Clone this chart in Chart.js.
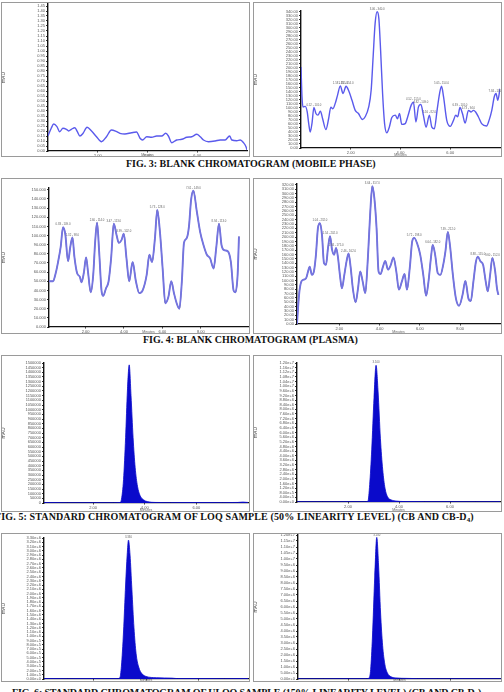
<!DOCTYPE html>
<html><head><meta charset="utf-8">
<script src="https://cdn.jsdelivr.net/npm/chart.js@4"></script>
<style>
html,body{margin:0;padding:0;background:#fff;width:504px;height:692px;overflow:hidden;position:relative}
.frame{position:absolute;border:1px solid #9a9a9a;box-sizing:border-box;pointer-events:none}
canvas{position:absolute}
.cap{position:absolute;white-space:nowrap;font:bold 10px "Liberation Serif","Times New Roman",serif;line-height:10px;color:#111}
.cap sub{font-size:7px;vertical-align:-2px;line-height:0}
</style></head><body>
<div class="cap" style="left:126px;top:159px">FIG. 3: BLANK CHROMATOGRAM (MOBILE PHASE)</div>
<div class="cap" style="left:143px;top:335px">FIG. 4: BLANK CHROMATOGRAM (PLASMA)</div>
<div class="cap" style="left:-5px;top:511.6px;letter-spacing:0.12px">FIG. 5: STANDARD CHROMATOGRAM OF LOQ SAMPLE (50% LINEARITY LEVEL) (CB AND CB-D<sub>4</sub>)</div>
<div class="cap" style="left:12px;top:687.6px;letter-spacing:-0.15px">FIG. 6: STANDARD CHROMATOGRAM OF ULOQ SAMPLE (150% LINEARITY LEVEL) (CB AND CB-D<sub>4</sub>)</div>
<script>
// ---- Fig 3 left: blank (mobile phase) ----
const timeA = [0.00,0.13,0.23,0.36,0.47,0.60,0.74,0.83,0.94,1.08,1.18,1.28,1.41,1.57,1.75,1.95,2.15,2.35,2.55,2.76,2.89,3.09,3.36,3.56,3.70,3.80,3.97,4.17,4.37,4.57,4.73,4.84,4.97,5.17,5.38,5.58,5.78,5.98,6.12,6.25,6.45,6.72,6.92,7.12,7.30,7.39,7.59,7.73,7.86,7.96,8.00];
const signalA = [0.150,0.227,0.270,0.243,0.193,0.227,0.217,0.200,0.217,0.233,0.193,0.150,0.177,0.237,0.200,0.143,0.093,0.143,0.210,0.193,0.177,0.170,0.183,0.190,0.127,0.110,0.143,0.137,0.150,0.150,0.177,0.150,0.083,0.110,0.117,0.137,0.143,0.167,0.143,0.110,0.093,0.100,0.110,0.110,0.150,0.110,0.103,0.110,0.083,0.043,0.010];
// ---- Fig 3 right ----
const timeB = [0.00,0.04,0.08,0.17,0.25,0.31,0.37,0.44,0.52,0.60,0.68,0.78,0.87,1.00,1.11,1.20,1.28,1.38,1.47,1.58,1.69,1.81,1.91,2.05,2.18,2.31,2.47,2.58,2.72,2.82,2.90,2.98,3.06,3.13,3.20,3.28,3.36,3.45,3.55,3.65,3.79,3.88,3.96,4.05,4.19,4.29,4.43,4.52,4.62,4.72,4.82,4.92,5.03,5.16,5.26,5.36,5.47,5.57,5.65,5.73,5.86,6.00,6.13,6.22,6.30,6.39,6.49,6.60,6.73,6.84,6.93,7.02,7.13,7.26,7.46,7.56,7.67,7.77,7.84,7.91,8.00];
const signalB = [202,128,102,104,90,61,40,61,101,86,82,92,73,46,73,102,98,112,132,155,136,154,144,119,94,86,71,78,102,144,228,311,340,323,244,136,61,38,52,76,82,73,86,59,61,78,107,115,65,102,109,82,52,82,52,48,94,136,154,128,69,54,69,82,78,101,86,62,94,90,94,90,78,61,55,69,94,128,136,119,148];
const peaksB = [8,19,21,32,47,50,53,58,65,68,78];
// ---- Fig 4 left: blank plasma ----
const timeC = [0.10,0.31,0.45,0.57,0.71,0.83,0.95,1.09,1.21,1.32,1.42,1.56,1.70,1.79,1.91,2.03,2.13,2.27,2.40,2.50,2.60,2.71,2.83,2.92,3.06,3.20,3.33,3.47,3.61,3.73,3.87,3.99,4.13,4.27,4.45,4.62,4.80,4.97,5.18,5.32,5.46,5.61,5.73,5.87,6.01,6.15,6.31,6.46,6.60,6.74,6.88,7.01,7.12,7.26,7.38,7.49,7.61,7.79,7.96,8.13,8.31,8.48,8.66,8.80,8.94,9.07,9.21,9.39,9.56,9.70,9.79,9.91,9.98];
const signalC = [50,50,59,71,88,109,101,72,88,98,77,59,55,49,59,76,60,38,57,93,114,82,40,34,42,50,75,113,101,92,95,102,75,50,71,50,37,40,57,79,71,97,128,104,64,26,33,50,37,26,20,50,92,97,110,139,149,126,104,90,79,75,64,87,113,90,84,83,71,40,38,57,99];
const peaksC = [5,9,20,27,31,42,56,64];
// ---- Fig 4 right ----
const timeD = [-0.10,-0.05,0.02,0.12,0.23,0.35,0.45,0.53,0.64,0.74,0.84,0.94,1.04,1.14,1.24,1.34,1.44,1.54,1.64,1.74,1.84,1.93,2.03,2.13,2.25,2.36,2.46,2.56,2.68,2.81,2.93,3.04,3.16,3.29,3.42,3.54,3.64,3.74,3.85,3.95,4.05,4.17,4.28,4.42,4.55,4.69,4.83,4.96,5.11,5.24,5.36,5.50,5.62,5.72,5.86,6.02,6.17,6.31,6.43,6.55,6.64,6.76,6.89,7.02,7.16,7.27,7.39,7.50,7.64,7.79,7.95,8.12,8.26,8.41,8.53,8.66,8.78,8.88,9.01,9.14,9.27,9.37,9.49,9.60,9.74,9.83,9.90];
const signalD = [0,36,75,98,102,105,121,132,113,121,159,221,232,205,140,136,175,202,171,159,175,155,113,82,113,144,162,132,79,50,82,121,98,71,152,259,317,290,221,121,115,132,145,125,135,153,121,79,98,115,79,129,190,198,186,159,113,65,98,152,182,159,117,113,136,167,212,179,113,59,42,67,99,59,53,98,142,155,144,136,98,75,113,152,121,82,67];
const peaksD = [12,17,20,26,36,53,60,66,77,83];
// ---- Fig 5 (LOQ) ----
const timeE = [0.10,1.00,2.00,2.80,3.05,3.10,3.18,3.26,3.33,3.40,3.47,3.55,3.63,3.72,3.82,3.95,4.10,4.40,5.00,6.00,7.00,7.60,7.80,8.00];
const signalE = [5000,3000,4000,3000,5000,40000,250000,700000,1200000,1480000,1150000,700000,380000,180000,80000,35000,15000,6000,4000,5000,4000,6000,10000,6000];
const timeF = [0.00,1.00,2.00,2.70,2.78,2.85,2.93,3.02,3.10,3.18,3.27,3.36,3.45,3.55,3.70,3.90,4.20,5.00,6.00,7.00,7.96];
const signalF = [3e4,2e4,3e4,3e4,6e4,1.5e6,4.5e6,9e6,1.18e7,9.5e6,5.5e6,2.8e6,1.2e6,4.5e5,1.8e5,8e4,4e4,3e4,3e4,2e4,3e4];
const peaksF = [8];
// ---- Fig 6 (ULOQ) ----
const timeG = [0.10,1.00,2.00,2.90,3.00,3.06,3.14,3.22,3.28,3.33,3.39,3.46,3.54,3.62,3.72,3.85,4.00,4.40,5.00,5.20,6.00,7.00,7.90];
const signalG = [1e4,8e3,1e4,1e4,3e4,3e5,1.1e6,2.2e6,2.9e6,3.25e6,2.9e6,2.1e6,1.2e6,6e5,2.8e5,1.2e5,6e4,3e4,2e4,1e4,1e4,8e3,1e4];
const peaksG = [9];
const timeH = [0.00,1.00,2.00,2.70,2.80,2.86,2.93,3.02,3.10,3.17,3.25,3.33,3.42,3.52,3.65,3.85,4.30,4.70,5.50,6.50,8.00];
const signalH = [2e4,2e4,3e4,3e4,8e4,8e5,3.5e6,8.5e6,1.18e7,9.5e6,5.5e6,2.8e6,1.2e6,5e5,2e5,9e4,5e4,3e4,2e4,3e4,2e4];
const peaksH = [8];
// ---- axes ----
const xTicks3 = [2,4,6];
const xTicks4 = [2,4,6,8];
const yAxisA = [0,1.47,0.05], yAxisB = [0,342,10], yAxisC = [0,152,10], yAxisD = [0,322,10];
const yAxisE = [0,1.5e6,5e4], yAxisF = [0,1.2e7,4e5], yAxisG = [0,3.3e6,1e5], yAxisH = [0,1.2e7,5e5];

const peakPlugin = {
  id:'peakLabels',
  afterDatasetsDraw(chart, args, opts){
    if(!opts || !opts.idx) return;
    const ctx = chart.ctx, xs = chart.scales.x, ys = chart.scales.y;
    const data = chart.data.datasets[0].data;
    ctx.save();
    ctx.font = '2.8px "Liberation Sans", sans-serif';
    ctx.fillStyle = '#666';
    ctx.textAlign = 'center';
    ctx.textBaseline = 'bottom';
    opts.idx.forEach(i => {
      const p = data[i];
      const txt = opts.mode === 'rt' ? p.x.toFixed(3) : p.x.toFixed(2) + ' - ' + p.y.toFixed(1);
      ctx.fillText(txt, xs.getPixelForValue(p.x), ys.getPixelForValue(p.y) - 1.2);
    });
    ctx.restore();
  }
};
Chart.register(peakPlugin);

const zip = (t, s) => t.map((x, i) => ({x: x, y: s[i]}));

function panel(c){
  const [bl, bt, bw, bh] = c.box;
  const [pl, pt, pr, pb] = c.plot;
  const fr = document.createElement('div');
  fr.className = 'frame';
  Object.assign(fr.style, {left: bl+'px', top: bt+'px', width: bw+'px', height: bh+'px'});
  const cv = document.createElement('canvas');
  cv.width = bw; cv.height = bh;
  Object.assign(cv.style, {left: bl+'px', top: bt+'px', width: bw+'px', height: bh+'px'});
  document.body.appendChild(cv);
  document.body.appendChild(fr);
  const pts = zip(c.t, c.s);
  let datasets;
  if (c.style === 'fill') {
    datasets = [{data: pts, borderColor:'#0a0acb', backgroundColor:'#0a0acb', fill:'origin', borderWidth:0.8, pointRadius:0, cubicInterpolationMode:'monotone'}];
  } else if (c.style === 'dark') {
    datasets = [
      {data: pts, borderColor:'#7474e0', borderWidth:1.9, pointRadius:0, fill:false, cubicInterpolationMode:'monotone'},
      {data: pts, borderColor:'#34345e', borderWidth:0.8, pointRadius:0, fill:false, cubicInterpolationMode:'monotone'}
    ];
  } else {
    datasets = [{data: pts, borderColor:'#5a5aec', borderWidth:1.4, pointRadius:0, fill:false, cubicInterpolationMode:'monotone'}];
  }
  const yW = pl - bl, xH = (bt + bh) - pb;
  new Chart(cv, {
    type:'line',
    data:{datasets},
    options:{
      responsive:false, animation:false, devicePixelRatio:1,
      layout:{padding:{left:0, top: pt - bt, right: (bl + bw) - pr, bottom:0}},
      plugins:{legend:{display:false}, tooltip:{enabled:false},
        peakLabels: c.peaks ? {idx: c.peaks, mode: c.mode} : {}},
      scales:{
        x:{type:'linear', min:c.x[0], max:c.x[1],
          afterBuildTicks(s){ s.ticks = c.xt.map(v => ({value:v})); },
          ticks:{font:{size:4, family:'Liberation Sans'}, color:'#555', padding:0.5, autoSkip:false, maxRotation:0, callback: v => v.toFixed(2)},
          grid:{drawOnChartArea:false, tickLength:1.5, color:'#333'},
          border:{display:true, color:'#111', width:1.2},
          title:{display:true, text:'Minutes', font:{size:3.5, family:'Liberation Sans'}, color:'#666', padding:0},
          afterFit(s){ s.height = xH; s.paddingLeft = 0; s.paddingRight = 0; }
        },
        y:{type:'linear', min:c.y[0], max:c.y[1],
          ticks:{stepSize:c.y[2], includeBounds:false, autoSkip:false, maxTicksLimit:200, font:{size:4, family:'Liberation Sans'}, color:'#555', padding:1, callback: c.fmt},
          grid:{drawOnChartArea:false, tickLength:2, color:'#333'},
          border:{display:true, color:'#111', width:1.4},
          title:{display:true, text:'mAU', font:{size:5, family:'Liberation Sans'}, color:'#444', padding:0},
          afterFit(s){ s.width = yW; s.paddingTop = 0; s.paddingBottom = 0; }
        }
      }
    }
  });
}

const f2 = v => v.toFixed(2), f3 = v => v.toFixed(3), fi = v => String(Math.round(v)), fe = v => v.toExponential(2);

panel({box:[1,2,249,155], plot:[48,4,247,151], x:[0,8], xt:xTicks3, y:yAxisA, fmt:f2, t:timeA, s:signalA, style:'blue'});
panel({box:[253,2,249,155], plot:[301,11,500,148], x:[0,8], xt:xTicks3, y:yAxisB, fmt:f2, t:timeB, s:signalB, style:'blue', peaks:peaksB});
panel({box:[1,178,249,156], plot:[49,188,248,327], x:[0.1,10.45], xt:xTicks4, y:yAxisC, fmt:f3, t:timeC, s:signalC, style:'dark', peaks:peaksC});
panel({box:[253,178,249,156], plot:[297,184,500,324], x:[-0.1,9.98], xt:xTicks4, y:yAxisD, fmt:f2, t:timeD, s:signalD, style:'dark', peaks:peaksD});
panel({box:[1,355,249,157], plot:[44,363,248,503], x:[0.1,8.0], xt:xTicks3, y:yAxisE, fmt:fi, t:timeE, s:signalE, style:'fill'});
panel({box:[253,355,249,157], plot:[297,363,500,502], x:[0,7.96], xt:xTicks3, y:yAxisF, fmt:fe, t:timeF, s:signalF, style:'fill', peaks:peaksF, mode:'rt'});
panel({box:[1,533,249,149], plot:[44,538,248,679], x:[0.1,7.9], xt:xTicks3, y:yAxisG, fmt:fe, t:timeG, s:signalG, style:'fill', peaks:peaksG, mode:'rt'});
panel({box:[253,533,249,149], plot:[298,535,501,679], x:[0,7.99], xt:xTicks3, y:yAxisH, fmt:fe, t:timeH, s:signalH, style:'fill', peaks:peaksH, mode:'rt'});
</script>
</body></html>
